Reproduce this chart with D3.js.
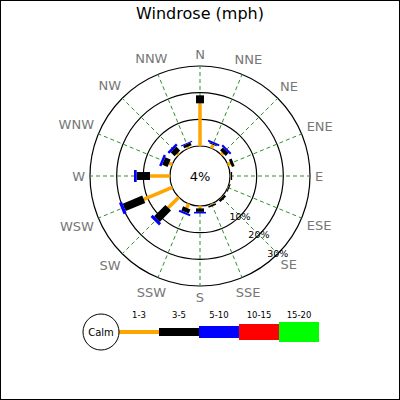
<!DOCTYPE html>
<html lang="en">
<head>
    <meta charset="UTF-8">
    <script src="https://d3js.org/d3.v7.min.js"></script>
    <title>Windrose</title>
    <style>
        body {
            margin: 0;
            font-family: "DejaVu Sans", sans-serif;
        }
    </style>
</head>
<body>
<div id="my_dataviz"></div>
<script>

    // data (percent of time per direction and speed range)
    var directions = ["N","NNE","NE","ENE","E","ESE","SE","SSE","S","SSW","SW","WSW","W","WNW","NW","NNW"];
    var ranges = ["1-3","3-5","5-10","10-15","15-20"];
    var rangeColors = ["orange","black","blue","red","#00ff00"];
    var speed1to3   = [16.0, 1.4, 0.9, 1.1, 0.3, 0.2, 0.2, 0.4, 0.9, 1.7, 5.6, 11.6, 7.5, 1.3, 0.75, 0.6];
    var speed3to5   = [3.0, 0.4, 1.5, 1.1, 0.5, 0.4, 0.9, 0.6, 1.3, 1.7, 6.0, 7.9, 5.0, 2.2, 2.1, 1.1];
    var speed5to10  = [0, 0.7, 0.75, 0, 0, 0, 0, 0, 0.6, 0.75, 1.1, 1.2, 1.0, 0.9, 0.9, 0.4];
    var speed10to15 = [0, 0, 0, 0, 0, 0, 0, 0, 0, 0, 0, 0, 0, 0, 0, 0];
    var speed15to20 = [0, 0, 0, 0, 0, 0, 0, 0, 0, 0, 0, 0, 0, 0, 0, 0];
    var calmPct = 4;
    var ringTicks = [10, 20, 30];

    var width = 400, height = 400;
    var cx = 200, cy = 176;
    var calmR = 30, outerR = 110;
    var barWidths = [3.5, 8, 12, 16, 20];

    var svg = d3.select("#my_dataviz")
        .append("svg")
        .attr("width", width)
        .attr("height", height);

    svg.append("rect")
        .attr("x", 0.5).attr("y", 0.5)
        .attr("width", width - 1).attr("height", height - 1)
        .attr("fill", "white")
        .attr("stroke", "black");

    // title
    svg.append("text")
        .attr("x", width / 2).attr("y", 19)
        .attr("text-anchor", "middle")
        .style("font-size", "16px")
        .text("Windrose (mph)");

    // radial scale, 0% starts at the calm circle
    var r = d3.scaleLinear()
        .domain([0, d3.max(ringTicks)])
        .range([calmR, outerR]);

    var angle = d3.scaleLinear()
        .domain([0, directions.length])
        .range([0, 2 * Math.PI]);

    function px(a, rad) { return cx + rad * Math.sin(a); }
    function py(a, rad) { return cy - rad * Math.cos(a); }

    var g = svg.append("g");

    // rings
    g.selectAll(".ring")
        .data([0].concat(ringTicks))
        .enter().append("circle")
        .attr("cx", cx).attr("cy", cy)
        .attr("r", function(d) { return r(d); })
        .attr("fill", "none")
        .attr("stroke", "black")
        .attr("stroke-width", 1.2);

    // dashed spokes
    g.selectAll(".spoke")
        .data(directions)
        .enter().append("line")
        .attr("x1", function(d, i) { return px(angle(i), r(0)); })
        .attr("y1", function(d, i) { return py(angle(i), r(0)); })
        .attr("x2", function(d, i) { return px(angle(i), r(30)); })
        .attr("y2", function(d, i) { return py(angle(i), r(30)); })
        .attr("stroke", "#2f8f2f")
        .attr("stroke-width", 1)
        .attr("stroke-dasharray", "4,3");

    // bars: stack the ranges outwards from the calm circle
    var series = [speed1to3, speed3to5, speed5to10, speed10to15, speed15to20];
    var segments = [];
    directions.forEach(function(dir, i) {
        var start = 0;
        series.forEach(function(s, k) {
            if (s[i] > 0) {
                segments.push({dir: i, k: k, from: start, to: start + s[i]});
            }
            start += s[i];
        });
    });

    g.selectAll(".seg")
        .data(segments)
        .enter().append("line")
        .attr("x1", function(d) { return px(angle(d.dir), r(d.from)); })
        .attr("y1", function(d) { return py(angle(d.dir), r(d.from)); })
        .attr("x2", function(d) { return px(angle(d.dir), r(d.to)); })
        .attr("y2", function(d) { return py(angle(d.dir), r(d.to)); })
        .attr("stroke", function(d) { return rangeColors[d.k]; })
        .attr("stroke-width", function(d) { return barWidths[d.k]; });

    // ring labels along the SE spoke
    g.selectAll(".ringlabel")
        .data(ringTicks)
        .enter().append("text")
        .attr("x", function(d) { return px(Math.PI * 0.75, r(d)); })
        .attr("y", function(d) { return py(Math.PI * 0.75, r(d)); })
        .attr("text-anchor", "middle")
        .attr("dominant-baseline", "central")
        .style("font-size", "9.5px")
        .text(function(d) { return d + "%"; });

    // calm percentage
    svg.append("text")
        .attr("x", cx).attr("y", cy)
        .attr("text-anchor", "middle")
        .attr("dominant-baseline", "central")
        .style("font-size", "13px")
        .text(calmPct + "%");

    // compass labels, pushed out so the box edge sits on a circle
    g.selectAll(".dirlabel")
        .data(directions)
        .enter().append("text")
        .attr("text-anchor", "middle")
        .attr("dominant-baseline", "central")
        .attr("fill", "#777")
        .style("font-size", "13px")
        .text(function(d) { return d; })
        .each(function(d, i) {
            var a = angle(i);
            var hw = this.getComputedTextLength() / 2;
            var dist = 115 + hw * Math.abs(Math.sin(a)) + 6.5 * Math.abs(Math.cos(a));
            d3.select(this).attr("x", px(a, dist)).attr("y", py(a, dist));
        });

    // legend
    var legend = svg.append("g");
    var legX = 119, legY = 332, legStep = 40;

    legend.selectAll(".legbar")
        .data(ranges)
        .enter().append("line")
        .attr("x1", function(d, i) { return legX + i * legStep; })
        .attr("x2", function(d, i) { return legX + (i + 1) * legStep; })
        .attr("y1", legY).attr("y2", legY)
        .attr("stroke", function(d, i) { return rangeColors[i]; })
        .attr("stroke-width", function(d, i) { return i == 0 ? 4 : barWidths[i]; });

    legend.selectAll(".leglabel")
        .data(ranges)
        .enter().append("text")
        .attr("x", function(d, i) { return legX + (i + 0.5) * legStep; })
        .attr("y", 318)
        .attr("text-anchor", "middle")
        .style("font-size", "8.5px")
        .text(function(d) { return d; });

    legend.append("circle")
        .attr("cx", 101).attr("cy", legY)
        .attr("r", 18)
        .attr("fill", "white")
        .attr("stroke", "black");

    legend.append("text")
        .attr("x", 101).attr("y", legY)
        .attr("text-anchor", "middle")
        .attr("dominant-baseline", "central")
        .style("font-size", "10px")
        .text("Calm");

</script>
</body>
</html>
